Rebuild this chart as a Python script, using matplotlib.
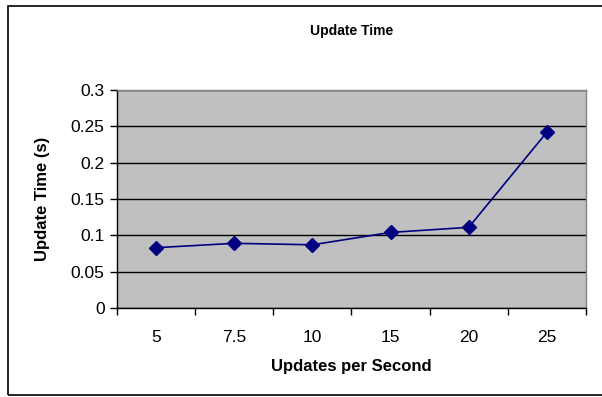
import matplotlib
matplotlib.use('Agg')
import matplotlib.pyplot as plt
import matplotlib.patches as patches
import numpy as np

plt.rcParams['font.family'] = ['Liberation Sans', 'DejaVu Sans']

# 数据
categories = ['5', '7.5', '10', '15', '20', '25']
update_time = [0.083, 0.089, 0.087, 0.104, 0.111, 0.242]
y_ticks = [0, 0.05, 0.1, 0.15, 0.2, 0.25, 0.3]
y_tick_labels = ['0', '0.05', '0.1', '0.15', '0.2', '0.25', '0.3']

W, H = 602, 397
fig = plt.figure(figsize=(W / 100, H / 100), dpi=100)
fig.patch.set_facecolor('white')

# 外框
fig.add_artist(patches.Rectangle((8 / W, 2 / H), 1.0, 389 / H, transform=fig.transFigure,
                                 fill=False, edgecolor='black', linewidth=1.2))

# 绘图区
left, right, top, bottom = 117, 586, 90, 308
ax = fig.add_axes([left / W, 1 - bottom / H, (right - left) / W, (bottom - top) / H])
ax.set_facecolor('#C0C0C0')

x = np.arange(len(categories))
ax.set_xlim(-0.5, len(categories) - 0.5)
ax.set_ylim(0, 0.3)

ax.set_yticks(y_ticks)
ax.set_yticklabels(y_tick_labels, fontsize=12.5)
ax.yaxis.grid(True, color='black', linewidth=1)
ax.set_axisbelow(True)

ax.set_xticks(x)
ax.set_xticklabels(categories, fontsize=12.5)
ax.set_xticks(np.arange(-0.5, len(categories)), minor=True)
ax.tick_params(axis='x', which='major', length=0, pad=16)
ax.tick_params(axis='x', which='minor', length=5, width=1, direction='out')
ax.tick_params(axis='y', length=5, width=1, direction='out', pad=4)

for s in ['top', 'right']:
    ax.spines[s].set_color('#808080')
    ax.spines[s].set_linewidth(1)
for s in ['left', 'bottom']:
    ax.spines[s].set_color('black')
    ax.spines[s].set_linewidth(1)

ax.plot(x, update_time, color='#000080', linewidth=1.2, marker='D',
        markersize=7, markerfacecolor='#000080', markeredgecolor='#000080',
        clip_on=False, zorder=5)

ax.set_xlabel('Updates per Second', fontsize=12, fontweight='bold', labelpad=10)
ax.set_ylabel('Update Time (s)', fontsize=12, fontweight='bold', labelpad=15)

fig.text(352 / W, 1 - 31 / H, 'Update Time', ha='center', va='center',
         fontsize=10, fontweight='bold')

plt.savefig('out.png', dpi=100, facecolor='white')
